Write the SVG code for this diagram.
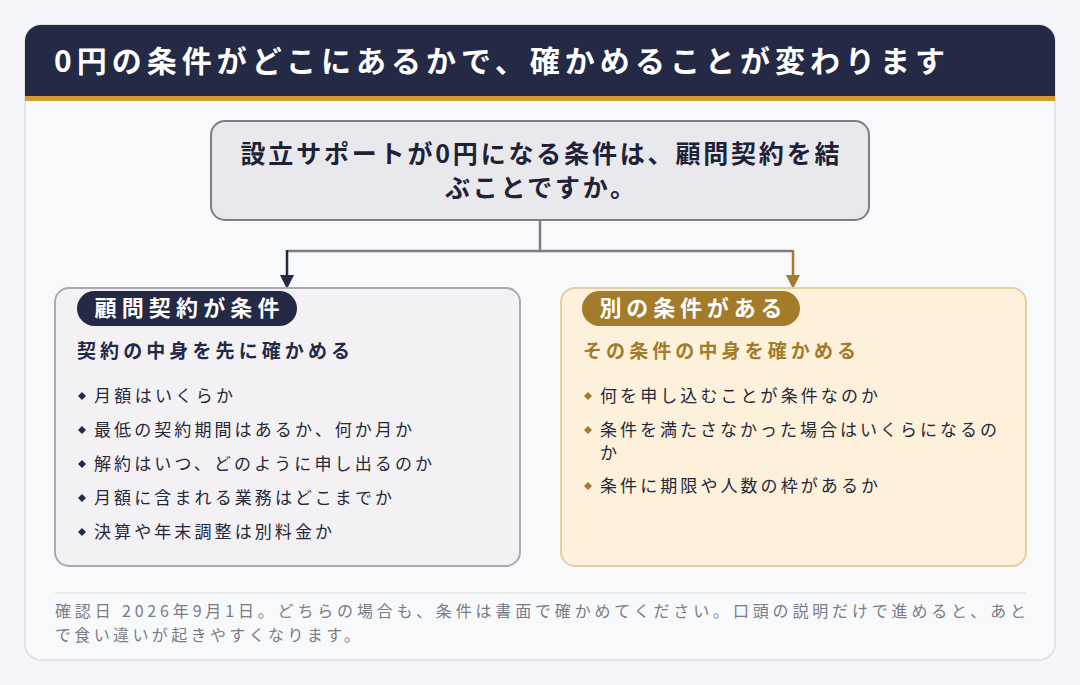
<svg xmlns="http://www.w3.org/2000/svg" width="1080" height="685" viewBox="0 0 1080 685">
<style>
text{font-family:"Noto Sans CJK JP","Noto Sans",sans-serif}
.t{font-size:30px;font-weight:bold;fill:#fff}
.q{font-size:25px;font-weight:bold;fill:#1f2237}
.pill{font-size:22px;font-weight:bold;fill:#fff}
.sub{font-size:19px;font-weight:bold}
.li{font-size:17px;fill:#262838}
.ft{font-size:16px;fill:#7a7c86}
</style>
<rect width="1080" height="685" fill="#f5f6f9"/>
<rect x="25" y="25" width="1030" height="635" rx="16" fill="#f8f9fb" stroke="#dcdde3" stroke-width="1.5"/>
<g id="header">
<path d="M25,97V41a16,16 0 0 1 16-16H1039a16,16 0 0 1 16,16V97z" fill="#242a45"/>
<rect x="25" y="96" width="1030" height="5" fill="#d09c33"/>
<text class="t" x="54" y="72" textLength="891" lengthAdjust="spacing">0円の条件がどこにあるかで、確かめることが変わります</text>
</g>
<g id="question">
<rect x="211" y="121" width="658" height="99" rx="14" fill="#e9e8ec" stroke="#7b7d8a" stroke-width="2"/>
<text class="q" x="540" y="163" text-anchor="middle" textLength="599" lengthAdjust="spacing">設立サポートが0円になる条件は、顧問契約を結</text>
<text class="q" x="540" y="197" text-anchor="middle" textLength="190" lengthAdjust="spacing">ぶことですか。</text>
</g>
<g id="connectors" fill="none" stroke-width="2.5">
<path d="M540,221V251H287" stroke="#7b7d8a"/>
<path d="M540,251H793" stroke="#7b7d8a"/>
<path d="M287,250V276" stroke="#242a45"/>
<path d="M793,250V276" stroke="#a37b2a"/>
<path d="M280,275H294L287,289z" fill="#242a45" stroke="none"/>
<path d="M786,275H800L793,289z" fill="#a37b2a" stroke="none"/>
</g>
<g id="left">
<rect x="55" y="288" width="465" height="278" rx="14" fill="#f3f1f4" stroke="#a9a9b2" stroke-width="2"/>
<rect x="77" y="291" width="220" height="35" rx="17.5" fill="#242a45"/>
<text class="pill" x="187" y="316" text-anchor="middle" textLength="185" lengthAdjust="spacing">顧問契約が条件</text>
<text class="sub" x="77" y="358" fill="#242a45" textLength="273" lengthAdjust="spacing">契約の中身を先に確かめる</text>
<g fill="#242a45"><path d="M82,392l4,4-4,4-4-4z"/><path d="M82,426l4,4-4,4-4-4z"/><path d="M82,460l4,4-4,4-4-4z"/><path d="M82,494l4,4-4,4-4-4z"/><path d="M82,528l4,4-4,4-4-4z"/></g>
<text class="li" x="94" y="402" textLength="139" lengthAdjust="spacing">月額はいくらか</text>
<text class="li" x="94" y="436" textLength="318" lengthAdjust="spacing">最低の契約期間はあるか、何か月か</text>
<text class="li" x="94" y="470" textLength="338" lengthAdjust="spacing">解約はいつ、どのように申し出るのか</text>
<text class="li" x="94" y="504" textLength="298" lengthAdjust="spacing">月額に含まれる業務はどこまでか</text>
<text class="li" x="94" y="538" textLength="238" lengthAdjust="spacing">決算や年末調整は別料金か</text>
</g>
<g id="right">
<rect x="561" y="288" width="465" height="278" rx="14" fill="#fdf1dc" stroke="#e3cfa6" stroke-width="2"/>
<rect x="582" y="291" width="218" height="35" rx="17.5" fill="#a37b2a"/>
<text class="pill" x="691" y="316" text-anchor="middle" textLength="183" lengthAdjust="spacing">別の条件がある</text>
<text class="sub" x="583" y="358" fill="#a37b2a" textLength="273" lengthAdjust="spacing">その条件の中身を確かめる</text>
<g fill="#a37b2a"><path d="M588,392l4,4-4,4-4-4z"/><path d="M588,426l4,4-4,4-4-4z"/><path d="M588,482l4,4-4,4-4-4z"/></g>
<text class="li" x="600" y="402" textLength="278" lengthAdjust="spacing">何を申し込むことが条件なのか</text>
<text class="li" x="600" y="436" textLength="397" lengthAdjust="spacing">条件を満たさなかった場合はいくらになるの</text>
<text class="li" x="600" y="459">か</text>
<text class="li" x="600" y="492" textLength="278" lengthAdjust="spacing">条件に期限や人数の枠があるか</text>
</g>
<g id="footer">
<line x1="55" y1="593" x2="1026" y2="593" stroke="#dcdde3" stroke-width="1"/>
<text class="ft" x="55" y="617" textLength="971" lengthAdjust="spacing">確認日 2026年9月1日。どちらの場合も、条件は書面で確かめてください。口頭の説明だけで進めると、あと</text>
<text class="ft" x="55" y="641" textLength="305" lengthAdjust="spacing">で食い違いが起きやすくなります。</text>
</g>
</svg>
